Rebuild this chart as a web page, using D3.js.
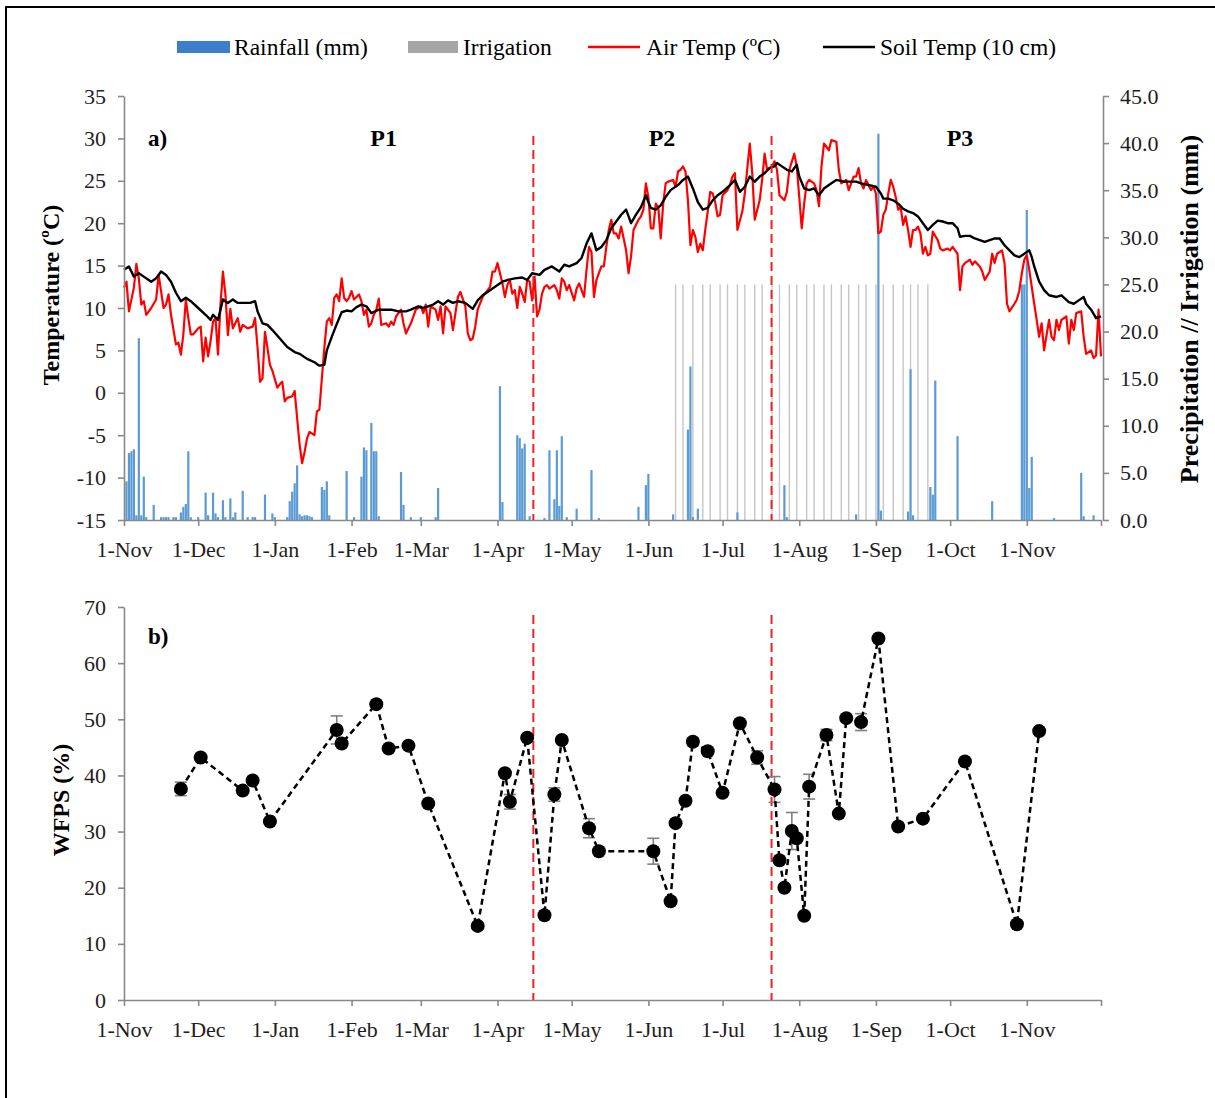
<!DOCTYPE html>
<html>
<head>
<meta charset="utf-8">
<script src="https://cdnjs.cloudflare.com/ajax/libs/d3/7.8.5/d3.min.js"></script>
<style>
    body { margin: 0; background: #fff; }
    svg text { font-family: "Liberation Serif", "Times New Roman", serif; }
</style>
</head>
<body>
<div id="chart"></div>
<script>
(function(d3) {
    'use strict';

    // all x values are days counted from 1-Nov-2012
    var airTemp = [[0,12.4],[1,13.1],[2,9.6],[4,12.4],[5,15.2],[6,13.5],[7,10.4],[8,10.8],[9,9.2],[11,10.0],[13,11.0],[14,13.9],
        [16,10.0],[17,10.4],[18,11.6],[19,9.2],[21,5.7],[22,5.9],[23,4.5],[24,6.9],[25,11.0],[26,8.8],[27,6.9],[28,6.9],[30,7.6],
        [31,7.8],[32,3.7],[33,6.5],[34,4.3],[35,6.1],[36,8.4],[37,8.8],[38,4.5],[39,10.4],[40,14.3],[41,11.6],[42,6.8],[43,9.9],
        [44,7.6],[46,8.8],[47,7.2],[48,8.0],[50,7.6],[52,7.8],[53,8.8],[54,5.3],[55,1.3],[56,1.7],[57,7.2],[58,5.3],[59,3.3],
        [60,2.6],[62,0.6],[63,1.0],[64,1.3],[65,-1.0],[66,-0.6],[68,-0.4],[69,0.2],[70,-3.0],[71,-6.1],[72,-8.3],[73,-7.0],
        [74,-5.4],[75,-4.6],[77,-5.0],[78,-2.2],[79,-2.0],[80,1.7],[81,5.3],[82,8.4],[83,8.8],[84,8.0],[85,11.2],[86,11.6],
        [87,10.8],[88,13.5],[89,11.2],[90,10.8],[91,11.2],[92,12.0],[93,11.0],[95,11.6],[96,10.8],[97,9.2],[98,9.8],[99,7.8],
        [100,8.2],[101,9.2],[102,9.8],[103,11.1],[104,8.0],[106,8.2],[107,7.8],[108,8.4],[109,8.0],[110,9.0],[112,9.8],[113,8.2],
        [114,7.0],[116,8.2],[117,9.0],[118,9.8],[120,10.2],[121,9.4],[122,10.4],[123,7.8],[124,10.2],[126,9.8],[127,8.6],
        [128,10.2],[129,7.0],[130,10.2],[132,9.4],[133,7.4],[134,9.4],[135,11.3],[136,11.9],[138,10.2],[139,7.0],[140,6.2],
        [141,6.4],[142,7.8],[143,9.8],[145,11.3],[146,11.7],[148,12.5],[149,14.3],[150,14.3],[151,15.3],[153,12.9],[154,11.3],
        [155,12.7],[156,13.3],[157,11.7],[158,12.1],[159,10.0],[160,12.5],[161,11.7],[162,10.7],[163,13.3],[164,13.1],[165,10.9],
        [166,13.7],[167,9.0],[168,9.8],[169,11.7],[170,12.5],[171,12.7],[172,12.3],[174,12.7],[175,12.1],[176,11.1],[177,13.5],
        [178,13.1],[179,12.1],[180,12.7],[182,10.9],[183,12.3],[184,12.9],[186,11.3],[187,14.5],[188,17.2],[189,16.6],[190,11.3],
        [191,13.3],[193,14.9],[194,14.9],[195,17.2],[196,19.2],[197,20.4],[198,18.8],[199,18.8],[200,18.2],[201,19.6],[203,16.8],
        [204,14.1],[205,16.1],[206,19.2],[208,20.4],[209,20.8],[210,21.6],[211,24.7],[212,23.1],[213,19.4],[214,19.4],[215,22.3],
        [216,21.9],[217,18.2],[218,22.3],[219,24.7],[220,24.9],[222,25.1],[223,24.3],[224,26.1],[225,26.3],[226,26.7],[227,26.1],
        [228,22.7],[229,17.4],[230,19.2],[231,18.4],[232,16.6],[233,17.6],[234,16.8],[235,19.2],[236,21.4],[237,23.7],[238,23.5],
        [239,22.5],[240,20.8],[241,21.0],[242,23.3],[244,23.9],[245,24.5],[246,25.5],[247,25.9],[248,19.2],[250,21.4],[251,23.5],
        [253,29.4],[254,25.9],[255,20.4],[257,22.7],[258,25.1],[259,28.2],[260,26.3],[262,26.7],[263,27.3],[264,26.3],[265,23.3],
        [267,22.7],[268,23.7],[269,26.3],[271,28.2],[272,26.7],[273,23.1],[274,19.4],[275,22.3],[276,24.7],[277,25.1],[279,24.7],
        [280,23.9],[281,22.0],[282,26.7],[283,29.4],[285,28.6],[286,29.8],[288,29.6],[289,26.3],[290,24.7],[292,25.1],[293,23.9],
        [295,25.5],[296,25.5],[297,26.5],[298,24.7],[299,24.1],[300,25.1],[302,23.9],[303,24.3],[304,23.5],[305,18.8],[306,19.0],
        [307,21.0],[308,21.6],[309,23.5],[310,25.1],[311,24.3],[312,23.1],[313,21.6],[314,21.9],[315,19.8],[316,20.8],[317,19.2],
        [318,17.2],[319,19.2],[320,19.2],[321,19.6],[322,18.8],[323,16.4],[324,17.2],[325,16.2],[326,16.4],[327,19.0],[329,18.0],
        [330,17.0],[331,16.8],[333,17.0],[334,16.8],[335,17.2],[337,16.4],[338,12.1],[339,14.9],[340,15.3],[342,15.7],[343,15.1],
        [344,15.5],[346,14.9],[347,14.3],[348,13.3],[350,14.3],[351,16.4],[352,15.3],[353,16.4],[355,16.8],[356,15.3],[357,10.5],
        [358,9.6],[360,10.5],[361,11.0],[362,12.1],[363,14.1],[364,15.7],[365,16.2],[366,14.5],[368,10.5],[369,8.6],[370,6.6],
        [371,8.2],[372,5.0],[374,8.6],[375,6.6],[376,6.2],[377,8.6],[378,7.4],[379,8.6],[381,9.0],[382,5.8],[383,8.6],[384,7.4],
        [385,9.4],[387,9.6],[388,6.6],[389,4.6],[391,5.0],[392,4.1],[393,4.4],[394,9.8],[395,4.3]];

    var soilTemp = [[0,14.5],[2,14.9],[4,13.7],[6,14.1],[8,13.7],[11,13.1],[13,13.5],[15,14.3],[17,13.9],[19,13.1],[21,11.8],
        [23,10.8],[25,11.2],[27,10.8],[30,10.0],[33,9.2],[35,8.6],[36,9.2],[38,8.6],[40,11.0],[42,10.6],[44,11.0],[46,10.6],
        [48,10.6],[51,10.6],[53,10.8],[54,9.6],[56,8.2],[58,8.0],[60,7.4],[63,6.4],[66,5.4],[69,4.8],[71,4.6],[74,4.0],[77,3.6],
        [79,3.2],[81,3.3],[82,5.0],[84,6.6],[86,8.1],[88,9.5],[90,9.7],[92,9.6],[94,10.1],[96,10.4],[98,10.2],[100,9.4],[103,9.8],
        [106,9.8],[108,9.8],[111,9.6],[114,9.6],[116,9.8],[119,10.2],[121,10.0],[123,10.2],[125,10.4],[127,10.8],[129,10.4],
        [131,10.9],[133,10.6],[135,10.8],[138,10.6],[141,9.9],[143,10.9],[145,11.5],[147,11.9],[150,12.5],[153,13.1],[155,13.3],
        [158,13.5],[161,13.6],[163,13.3],[165,14.1],[168,13.9],[170,14.5],[173,14.9],[176,14.3],[178,15.1],[180,14.9],[183,15.3],
        [185,15.9],[187,17.6],[189,18.8],[191,16.8],[193,17.2],[195,18.0],[197,19.4],[199,20.2],[201,21.0],[203,21.6],[205,20.0],
        [207,21.0],[209,21.9],[211,23.3],[212,22.5],[213,21.8],[215,21.6],[217,22.1],[219,23.1],[221,23.9],[224,24.5],[226,25.1],
        [228,25.5],[230,24.1],[232,22.5],[234,21.6],[236,21.8],[238,22.7],[240,23.3],[242,23.7],[245,24.5],[247,25.1],[249,23.7],
        [251,24.3],[253,25.5],[255,24.9],[257,25.5],[259,25.9],[261,26.5],[263,26.7],[264,27.1],[266,26.7],[268,26.3],[270,26.1],
        [272,26.9],[273,25.5],[275,24.1],[277,23.9],[279,24.1],[281,23.3],[283,24.1],[286,24.7],[288,25.1],[291,24.9],[294,24.9],
        [296,24.9],[298,24.7],[301,24.5],[304,24.3],[306,23.5],[307,22.9],[309,22.9],[311,22.7],[313,22.3],[315,21.7],[317,21.4],
        [319,21.2],[321,20.8],[323,20.0],[325,19.2],[327,19.8],[329,20.3],[331,20.2],[333,20.0],[335,20.0],[337,19.4],[338,18.4],
        [340,18.5],[342,18.5],[344,18.2],[346,18.0],[348,17.8],[350,18.0],[352,18.2],[354,18.2],[356,17.4],[358,16.8],[360,16.2],
        [362,16.0],[364,16.4],[366,16.8],[367,16.0],[368,14.9],[370,13.1],[372,12.1],[374,11.5],[377,11.3],[379,11.5],[382,10.7],
        [384,10.5],[386,10.9],[388,11.3],[389,10.5],[391,9.8],[393,8.8],[395,9.0]];

    var rainfall = [[1,4.1],[2,7.1],[3,7.3],[4,7.5],[5,0.5],[6,19.3],[7,0.5],[8,4.6],[9,0.3],[12,1.6],[15,0.3],[16,0.3],[17,0.3],
        [18,0.3],[20,0.3],[21,0.3],[23,0.8],[24,1.4],[25,1.7],[26,7.3],[27,0.3],[30,0.3],[33,2.9],[34,0.5],[36,2.9],[37,0.7],
        [38,0.3],[40,2.1],[41,0.3],[43,2.3],[44,0.3],[45,0.8],[48,3.1],[50,0.3],[52,0.3],[53,0.3],[57,2.7],[60,0.7],[61,0.3],
        [66,0.3],[67,2.0],[68,3.0],[69,3.9],[70,5.8],[71,0.6],[72,0.4],[73,0.5],[74,0.5],[75,0.4],[76,0.3],[80,3.5],[81,3.2],
        [82,4.1],[83,0.5],[90,5.2],[93,0.3],[96,4.6],[97,7.7],[98,7.4],[100,10.3],[101,7.3],[102,7.3],[103,0.4],[112,5.1],
        [113,1.6],[116,0.3],[120,0.3],[126,0.3],[127,3.4],[152,14.2],[153,1.9],[159,9.0],[160,8.7],[161,7.6],[162,8.1],[164,0.4],
        [170,0.2],[172,7.4],[174,2.2],[175,7.4],[176,1.5],[177,8.9],[179,0.3],[183,1.2],[189,5.3],[192,0.2],[208,1.4],[211,3.7],
        [212,4.9],[222,0.6],[228,9.6],[229,16.3],[230,0.3],[232,1.2],[248,0.8],[267,3.7],[268,0.3],[296,0.6],[305,41.0],[306,1.0],
        [317,0.9],[318,16.0],[319,0.5],[326,3.5],[327,2.7],[328,14.8],[337,8.9],[351,2.0],[363,25.0],[364,25.0],[365,32.9],
        [366,3.4],[367,6.7],[376,0.2],[387,5.0],[388,0.4],[392,0.5]];

    var irrigation = [[223,25],[226,25],[230,25],[234,25],[237,25],[241,25],[244,25],[248,25],[251,25],[255,25],[258,25],
        [262,25],[265,25],[269,25],[272,25],[276,25],[279,25],[283,25],[286,25],[290,25],[293,25],[297,25],[300,25],[304,25],
        [307,25],[311,25],[315,25],[318,25],[321,25],[325,25]];

    // [day, WFPS %, error]
    var wfps = [[23,37.6,1.2],[31,43.2,0.3],[48,37.3,0.5],[52,39.1,0.5],[59,31.8,0.4],[86,48.1,2.5],[88,45.7,0.5],
        [102,52.7,0.4],[107,44.8,0.4],[115,45.3,0.3],[123,35.0,0.3],[143,13.2,0.3],[154,40.4,0.5],[156,35.3,1.3],[163,46.7,0.5],
        [170,15.1,0.3],[174,36.6,1.2],[177,46.3,0.3],[188,30.6,1.7],[192,26.5,0.3],[214,26.5,2.3],[221,17.6,0.3],[223,31.5,0.3],
        [227,35.5,0.5],[230,46.0,0.7],[236,44.3,0.3],[242,36.9,0.4],[249,49.3,0.3],[256,43.2,1.2],[263,37.5,2.3],[265,24.9,0.3],
        [267,20.0,0.3],[270,30.1,3.3],[272,28.8,0.5],[275,15.0,0.3],[277,38.0,2.2],[284,47.2,1.0],[289,33.2,0.3],[292,50.2,0.3],
        [298,49.5,1.5],[305,64.4,0.3],[313,30.9,0.3],[323,32.3,0.3],[340,42.5,0.3],[361,13.5,0.3],[370,47.9,0.5]];

    var periodBreaks = [165.5, 261.8];
    var periodLabels = ['P1', 'P2', 'P3'];
    var periodLabelDays = [105, 217.5, 338];

    var tempTicks = d3.range(-15, 36, 5);
    var precipTicks = d3.range(0, 46, 5);
    var wfpsTicks = d3.range(0, 71, 10);

    var width = 1215,
        height = 1098;

    var start = Date.UTC(2012, 10, 1);
    function toDate(day) {
        return new Date(start + day * 864e5);
    }

    var svg = d3.select('#chart').append('svg')
        .attr('width', width)
        .attr('height', height);

    // frame
    svg.append('path')
        .attr('d', 'M6,' + height + 'V7H' + width)
        .attr('fill', 'none')
        .attr('stroke', '#000')
        .attr('stroke-width', 2);

    var x = d3.scaleUtc()
        .domain([toDate(0), toDate(395)])
        .range([124, 1101]);

    var yTemp = d3.scaleLinear().domain([-15, 35]).range([520, 96]);
    var yPrecip = d3.scaleLinear().domain([0, 45]).range([520, 96]);
    var yWfps = d3.scaleLinear().domain([0, 70]).range([1000, 607]);

    var monthTicks = d3.utcMonth.range(toDate(0), toDate(395.5));
    var lastTick = monthTicks[monthTicks.length - 1];
    var fmtMonth = d3.utcFormat('%-d-%b');
    var plain = function(d) { return String(d); };

    function styleAxis(g) {
        g.attr('font-family', null).attr('font-size', null);
        g.select('.domain').attr('stroke', '#898989').attr('stroke-width', 1.6);
        g.selectAll('.tick line').attr('stroke', '#898989').attr('stroke-width', 1.6);
        g.selectAll('.tick text').attr('fill', '#1e1e1e').style('font-size', '22px');
    }

    var xAxis = d3.axisBottom(x)
        .tickValues(monthTicks)
        .tickSize(6)
        .tickSizeOuter(0)
        .tickPadding(15)
        .tickFormat(function(d) { return +d === +lastTick ? '' : fmtMonth(d); });

    // ---- panel a ----
    var top = svg.append('g');

    top.selectAll('.irr')
        .data(irrigation)
        .enter()
        .append('rect')
        .attr('class', 'irr')
        .attr('x', function(d) { return x(toDate(d[0])) - 0.7; })
        .attr('width', 1.4)
        .attr('y', function(d) { return yPrecip(d[1]); })
        .attr('height', function(d) { return yPrecip(0) - yPrecip(d[1]); })
        .attr('fill', '#c6c6c6');

    top.selectAll('.rain')
        .data(rainfall)
        .enter()
        .append('rect')
        .attr('class', 'rain')
        .attr('x', function(d) { return x(toDate(d[0])) - 1.1; })
        .attr('width', 2.2)
        .attr('y', function(d) { return yPrecip(d[1]); })
        .attr('height', function(d) { return yPrecip(0) - yPrecip(d[1]); })
        .attr('fill', '#5b9bd5');

    var tempLine = d3.line()
        .x(function(d) { return x(toDate(d[0])); })
        .y(function(d) { return yTemp(d[1]); });

    top.append('path')
        .datum(airTemp)
        .attr('d', tempLine)
        .attr('fill', 'none')
        .attr('stroke', '#ff0000')
        .attr('stroke-width', 2.2)
        .attr('stroke-linejoin', 'round');

    top.append('path')
        .datum(soilTemp)
        .attr('d', tempLine)
        .attr('fill', 'none')
        .attr('stroke', '#000')
        .attr('stroke-width', 2.4)
        .attr('stroke-linejoin', 'round');

    top.append('g')
        .attr('transform', 'translate(0,520)')
        .call(xAxis)
        .call(styleAxis);

    top.append('g')
        .attr('transform', 'translate(124,0)')
        .call(d3.axisLeft(yTemp).tickValues(tempTicks).tickSize(6).tickSizeOuter(0).tickPadding(12)
            .tickFormat(plain))
        .call(styleAxis);

    top.append('g')
        .attr('transform', 'translate(1103,0)')
        .call(d3.axisRight(yPrecip).tickValues(precipTicks).tickSize(6).tickSizeOuter(0).tickPadding(11)
            .tickFormat(d3.format('.1f')))
        .call(styleAxis);

    top.selectAll('.brk')
        .data(periodBreaks)
        .enter()
        .append('line')
        .attr('class', 'brk')
        .attr('x1', function(d) { return x(toDate(d)); })
        .attr('x2', function(d) { return x(toDate(d)); })
        .attr('y1', 136)
        .attr('y2', 520)
        .attr('stroke', '#f02020')
        .attr('stroke-width', 2)
        .attr('stroke-dasharray', '9,5');

    top.selectAll('.plab')
        .data(periodLabels)
        .enter()
        .append('text')
        .attr('x', function(d, i) { return x(toDate(periodLabelDays[i])); })
        .attr('y', 146)
        .attr('text-anchor', 'middle')
        .style('font-size', '24px')
        .style('font-weight', 'bold')
        .text(function(d) { return d; });

    top.append('text')
        .attr('x', 148)
        .attr('y', 146)
        .style('font-size', '23px')
        .style('font-weight', 'bold')
        .text('a)');

    top.append('text')
        .attr('transform', 'translate(59,295) rotate(-90)')
        .attr('text-anchor', 'middle')
        .style('font-size', '24px')
        .style('font-weight', 'bold')
        .text('Temperature (ºC)');

    top.append('text')
        .attr('transform', 'translate(1198,309) rotate(-90)')
        .attr('text-anchor', 'middle')
        .style('font-size', '26px')
        .style('font-weight', 'bold')
        .text('Precipitation // Irrigation (mm)');

    // legend
    var legend = svg.append('g').style('font-size', '23.5px');

    legend.append('rect').attr('x', 177).attr('y', 41).attr('width', 53).attr('height', 12).attr('fill', '#3d7ecb');
    legend.append('text').attr('x', 234).attr('y', 55).text('Rainfall (mm)');
    legend.append('rect').attr('x', 408).attr('y', 41).attr('width', 50).attr('height', 12).attr('fill', '#a6a6a6');
    legend.append('text').attr('x', 463).attr('y', 55).text('Irrigation');
    legend.append('line').attr('x1', 588).attr('x2', 640).attr('y1', 47).attr('y2', 47)
        .attr('stroke', '#ff0000').attr('stroke-width', 2.5);
    legend.append('text').attr('x', 646).attr('y', 55).text('Air Temp (ºC)');
    legend.append('line').attr('x1', 823).attr('x2', 875).attr('y1', 47).attr('y2', 47)
        .attr('stroke', '#000').attr('stroke-width', 2.5);
    legend.append('text').attr('x', 880).attr('y', 55).text('Soil Temp (10 cm)');

    // ---- panel b ----
    var bottom = svg.append('g');

    bottom.append('g')
        .attr('transform', 'translate(0,1000)')
        .call(xAxis)
        .call(styleAxis);

    bottom.append('g')
        .attr('transform', 'translate(124,0)')
        .call(d3.axisLeft(yWfps).tickValues(wfpsTicks).tickSize(6).tickSizeOuter(0).tickPadding(12)
            .tickFormat(plain))
        .call(styleAxis);

    bottom.selectAll('.brk')
        .data(periodBreaks)
        .enter()
        .append('line')
        .attr('class', 'brk')
        .attr('x1', function(d) { return x(toDate(d)); })
        .attr('x2', function(d) { return x(toDate(d)); })
        .attr('y1', 615)
        .attr('y2', 1000)
        .attr('stroke', '#f02020')
        .attr('stroke-width', 2)
        .attr('stroke-dasharray', '9,5');

    var err = bottom.selectAll('.err')
        .data(wfps)
        .enter()
        .append('g')
        .attr('class', 'err')
        .attr('stroke', '#7f7f7f')
        .attr('stroke-width', 1.6);

    err.append('line')
        .attr('x1', function(d) { return x(toDate(d[0])); })
        .attr('x2', function(d) { return x(toDate(d[0])); })
        .attr('y1', function(d) { return yWfps(d[1] - d[2]); })
        .attr('y2', function(d) { return yWfps(d[1] + d[2]); });

    [-1, 1].forEach(function(s) {
        err.append('line')
            .attr('x1', function(d) { return x(toDate(d[0])) - 6; })
            .attr('x2', function(d) { return x(toDate(d[0])) + 6; })
            .attr('y1', function(d) { return yWfps(d[1] + s * d[2]); })
            .attr('y2', function(d) { return yWfps(d[1] + s * d[2]); });
    });

    bottom.append('path')
        .datum(wfps)
        .attr('d', d3.line()
            .x(function(d) { return x(toDate(d[0])); })
            .y(function(d) { return yWfps(d[1]); }))
        .attr('fill', 'none')
        .attr('stroke', '#000')
        .attr('stroke-width', 2.5)
        .attr('stroke-dasharray', '6,4');

    bottom.selectAll('.pt')
        .data(wfps)
        .enter()
        .append('circle')
        .attr('class', 'pt')
        .attr('cx', function(d) { return x(toDate(d[0])); })
        .attr('cy', function(d) { return yWfps(d[1]); })
        .attr('r', 7)
        .attr('fill', '#000');

    bottom.append('text')
        .attr('x', 148)
        .attr('y', 644)
        .style('font-size', '23px')
        .style('font-weight', 'bold')
        .text('b)');

    bottom.append('text')
        .attr('transform', 'translate(69,800) rotate(-90)')
        .attr('text-anchor', 'middle')
        .style('font-size', '24px')
        .style('font-weight', 'bold')
        .text('WFPS (%)');

})(window.d3);
</script>
</body>
</html>
